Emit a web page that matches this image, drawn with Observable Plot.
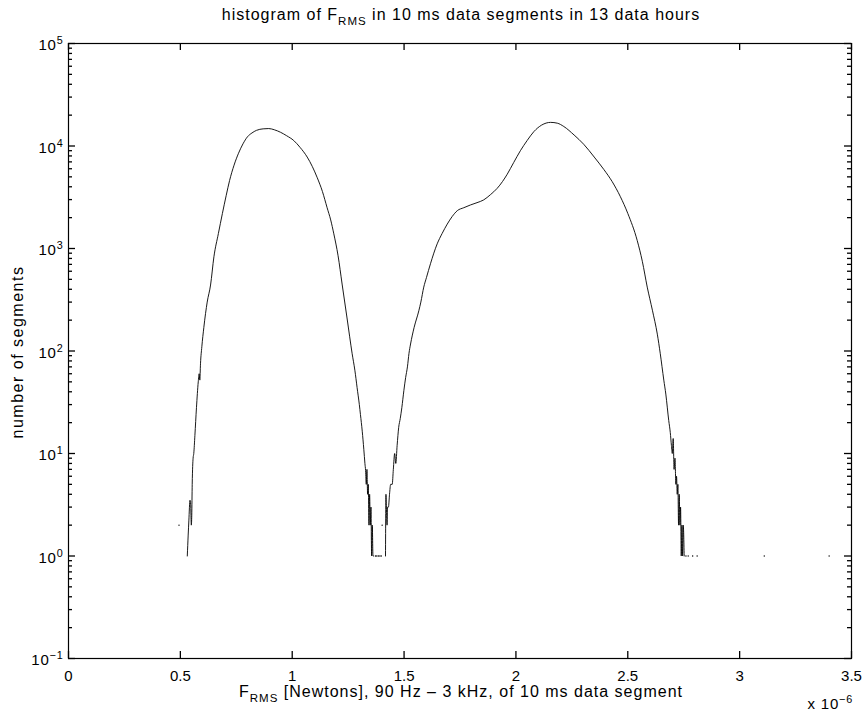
<!DOCTYPE html>
<html><head><meta charset="utf-8">
<script src="https://cdn.jsdelivr.net/npm/d3@7"></script>
<script src="https://cdn.jsdelivr.net/npm/@observablehq/plot@0.6"></script>
<style>
body{margin:0;background:#fff}
svg{font-family:"Liberation Sans",Arial,Helvetica,sans-serif}
</style>
</head><body><div id="chart"></div>
<script>
// ---- tick values (x in units of 1e-6 N) ----
const xTicks = [0, 0.5, 1, 1.5, 2, 2.5, 3, 3.5];
const yTicks = [0.1, 1, 10, 100, 1000, 10000, 100000];

// ---- left lobe of the histogram ----
const leftX = [0.531,0.535,0.538,0.543,0.546,0.549,0.551,0.553,0.557,0.560,0.565,0.572,0.580,0.584,0.587,0.590,0.596,0.605,0.620,0.635,0.650,0.670,0.688,0.705,0.720,0.740,0.760,0.780,0.800,0.820,0.840,0.870,0.895,0.920,0.948,0.975,1.007,1.035,1.067,1.090,1.112,1.135,1.156,1.172,1.186,1.205,1.223,1.245,1.268,1.280,1.290,1.300,1.305,1.313,1.320,1.325,1.328,1.331,1.334,1.337,1.340,1.343,1.346,1.349,1.352,1.355,1.358,1.361,1.364];
const leftY = [1,1.6,2.2,3.5,3.2,2,2.5,5,9,10,15,28,50,60,52,75,110,170,300,440,830,1400,2200,3300,4600,6500,8500,10500,12300,13400,14200,14700,14800,14400,13600,12600,11300,9700,7800,6300,4900,3600,2500,1900,1390,850,450,210,94,65,44,30,24,16.5,11,8,6.8,5,7,4,5,2,4,2,3,1,2,1,1];

// ---- right lobe of the histogram ----
const rightX = [1.417,1.419,1.421,1.424,1.426,1.430,1.435,1.440,1.447,1.452,1.458,1.463,1.469,1.476,1.483,1.490,1.499,1.507,1.515,1.522,1.529,1.545,1.566,1.575,1.588,1.600,1.618,1.648,1.670,1.693,1.715,1.738,1.767,1.797,1.826,1.856,1.886,1.916,1.940,1.961,1.990,2.020,2.050,2.080,2.115,2.155,2.185,2.214,2.260,2.303,2.350,2.393,2.430,2.467,2.500,2.542,2.565,2.587,2.610,2.632,2.645,2.661,2.670,2.683,2.690,2.695,2.699,2.703,2.707,2.711,2.715,2.718,2.721,2.724,2.727,2.730,2.733,2.736,2.739,2.742,2.745,2.748,2.752];
const rightY = [1,4,3,2,3,3,4,5,5,7,10,8,12,18,22,28,41,55,70,95,117,170,247,300,420,520,710,1110,1400,1730,2050,2340,2500,2660,2800,2980,3350,3860,4500,5300,6900,9000,11300,13800,16000,17000,16700,15500,12800,10400,7800,5900,4500,3200,2200,1200,750,420,250,146,95,52,38,21,16,12,10,14,7,9,5,6,4,5,2,4,2,3,1,2,1,2,1];

// ---- isolated bins (surrounded by empty bins) ----
const isoX = [0.494,1.372,1.378,1.385,1.392,1.398,1.402,2.760,2.770,2.790,2.810,3.110,3.400];
const isoY = [2,1,1,1,1,1,2,1,1,1,1,1,1];

const lineData = [
  ...leftX.map((x, i) => ({x, y: leftY[i], seg: "L"})),
  ...rightX.map((x, i) => ({x, y: rightY[i], seg: "R"}))
];
const isoData = isoX.map((x, i) => ({x, y: isoY[i]}));

// minor log ticks 2..9 x 10^k
const yMinor = [];
for (let k = -1; k < 5; k++) for (let m = 2; m <= 9; m++) yMinor.push(m * Math.pow(10, k));

const W = 864, H = 711, ML = 68, MR = 13, MT = 43, MB = 53;
const PW = W - ML - MR, PH = H - MT - MB;
const MAJ = 7, MIN = 4, TW = 1.3;
const FS = 15, LFS = 16;
const chart = Plot.plot({
  width: W, height: H,
  marginTop: MT, marginBottom: MB, marginLeft: ML, marginRight: MR,
  style: {fontFamily: "Liberation Sans, Arial, Helvetica, sans-serif", fontSize: FS + "px", color: "black", background: "white"},
  x: {domain: [0, 3.5]},
  y: {type: "log", domain: [0.1, 100000]},
  marks: [
    Plot.line(lineData, {x: "x", y: "y", z: "seg", stroke: "black", strokeWidth: 0.9, curve: "monotone-x"}),
    Plot.dot(isoData, {x: "x", y: "y", r: 0.7, fill: "black", stroke: null}),
    // inward ticks on all four sides
    Plot.tickX(xTicks, {x: d => d, insetTop: PH - MAJ, stroke: "black", strokeWidth: TW}),
    Plot.tickX(xTicks, {x: d => d, insetBottom: PH - MAJ, stroke: "black", strokeWidth: TW}),
    Plot.tickY(yTicks, {y: d => d, insetRight: PW - MAJ, stroke: "black", strokeWidth: TW}),
    Plot.tickY(yTicks, {y: d => d, insetLeft: PW - MAJ, stroke: "black", strokeWidth: TW}),
    Plot.tickY(yMinor, {y: d => d, insetRight: PW - MIN, stroke: "black", strokeWidth: TW}),
    Plot.tickY(yMinor, {y: d => d, insetLeft: PW - MIN, stroke: "black", strokeWidth: TW}),
    // tick labels
    Plot.axisY(yTicks, {anchor: "left", tickSize: 0, tickPadding: 5, dy: 2, tickFormat: d => "10^" + Math.round(Math.log10(d)), label: null, fill: "black"}),
    Plot.axisX(xTicks, {anchor: "bottom", tickSize: 0, tickPadding: 12, tickFormat: d => String(d), label: null, fill: "black"}),
    Plot.frame({stroke: "black", strokeWidth: 1.2})
  ]
});
document.getElementById("chart").appendChild(chart);

// ---- superscripts on y tick labels ----
const NS = "http://www.w3.org/2000/svg";
chart.querySelectorAll('g[aria-label="y-axis tick label"] text').forEach(t => {
  const m = t.textContent.match(/^10\^(-?\d+)$/);
  if (!m) return;
  t.textContent = "10";
  t.setAttribute("letter-spacing", "0.8");
  const sup = document.createElementNS(NS, "tspan");
  sup.setAttribute("dy", "-0.55em");
  sup.setAttribute("font-size", "0.72em");
  sup.textContent = m[1].replace("-", "\u2212");
  t.appendChild(sup);
});

// ---- titles and labels ----
const svg = d3.select(chart);
function rich(parent, parts) {
  parts.forEach(p => {
    const ts = parent.append("tspan").text(p.t);
    if (p.sub) ts.attr("font-size", "0.72em").attr("dy", "0.45em");
    if (p.sup) ts.attr("font-size", "0.72em").attr("dy", "-0.55em");
    if (p.back) ts.attr("dy", p.back);
  });
}
const title = svg.append("text").attr("x", 461).attr("y", 20).attr("text-anchor", "middle")
  .attr("font-size", LFS).attr("letter-spacing", 1).attr("fill", "black");
rich(title, [{t: "histogram of F"}, {t: "RMS", sub: true}, {t: " in 10 ms data segments in 13 data hours", back: "-0.32em"}]);

const xl = svg.append("text").attr("x", 461).attr("y", 697).attr("text-anchor", "middle")
  .attr("font-size", LFS).attr("letter-spacing", 1).attr("fill", "black");
rich(xl, [{t: "F"}, {t: "RMS", sub: true}, {t: " [Newtons], 90 Hz \u2013 3 kHz, of 10 ms data segment", back: "-0.32em"}]);

svg.append("text").attr("transform", "translate(23,352) rotate(-90)").attr("text-anchor", "middle")
  .attr("font-size", LFS).attr("letter-spacing", 1.5).attr("fill", "black").text("number of segments");

const ex = svg.append("text").attr("x", 853).attr("y", 709).attr("text-anchor", "end")
  .attr("font-size", FS).attr("letter-spacing", 0.8).attr("fill", "black");
rich(ex, [{t: "x 10"}, {t: "\u22126", sup: true}]);
</script>
</body></html>
